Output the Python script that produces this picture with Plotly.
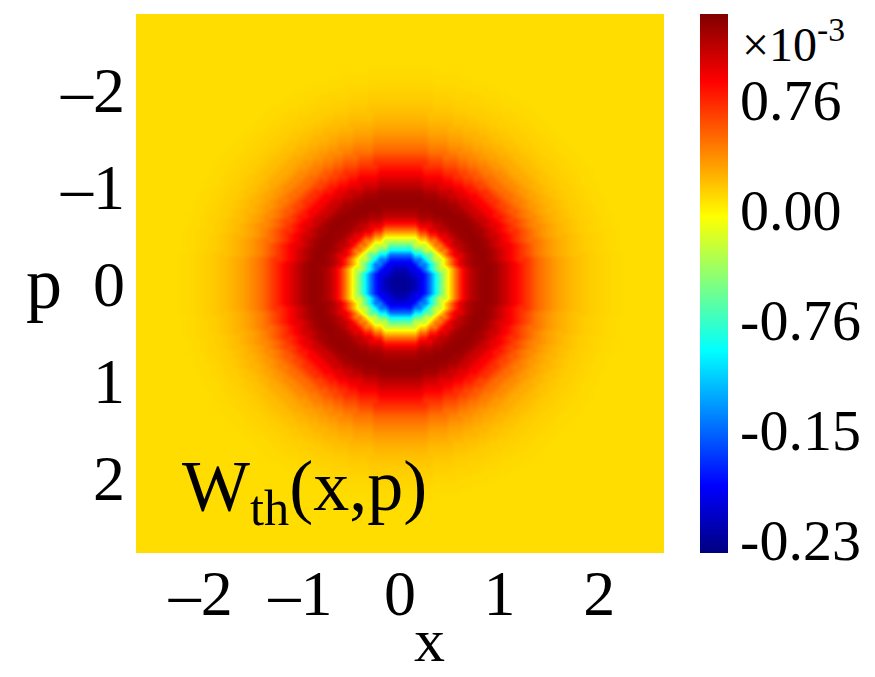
import numpy as np
import plotly.graph_objects as go

# Radial profile of W_th(x,p) (units of 1e-3), every 0.05 in radius
radius_step = 0.05
w_radial = [-2.30, -2.28, -2.24, -2.15, -2.00, -1.80, -1.45, -1.00, -0.60, -0.25,
            0.10, 0.45, 0.76, 0.98, 1.12, 1.20, 1.25, 1.27, 1.26, 1.22,
            1.15, 1.07, 0.98, 0.90, 0.81, 0.72, 0.64, 0.56, 0.49, 0.43,
            0.38, 0.33, 0.29, 0.26, 0.23, 0.20, 0.18, 0.16, 0.14, 0.13,
            0.12, 0.11, 0.10, 0.09, 0.09, 0.08]

x_ticks = [-2, -1, 0, 1, 2]
x_tick_text = ["\u20132", "\u20131", "0", "1", "2"]
p_ticks = [-2, -1, 0, 1, 2]
p_tick_text = ["\u20132", "\u20131", "0", "1", "2"]
cbar_ticks = [0.76, 0.0, -0.76, -1.52, -2.28]
cbar_tick_text = ["0.76", "0.00", "-0.76", "-0.15", "-0.23"]

# MATLAB-style jet
jet = [[0.0, "rgb(0,0,128)"], [0.125, "rgb(0,0,255)"], [0.375, "rgb(0,255,255)"],
       [0.625, "rgb(255,255,0)"], [0.875, "rgb(255,0,0)"], [1.0, "rgb(128,0,0)"]]

# grid of phase-space points (multiples of the radial step)
n = 56
xg = np.round(np.arange(-n, n + 1) * radius_step, 3)
pg = np.round(np.arange(-n, n + 1) * radius_step, 3)
X, P = np.meshgrid(xg, pg)
idx = np.clip(np.rint(np.sqrt(X**2 + P**2) / radius_step).astype(int), 0, len(w_radial) - 1)
Z = np.array(w_radial)[idx]

FONT = "Liberation Serif"
W, H = 867, 669
L, T = 128, 6
pw, ph = 528, 539
R, B = W - L - pw, H - T - ph

fig = go.Figure(go.Heatmap(
    x=xg, y=pg, z=Z, colorscale=jet, zmin=-2.37, zmax=1.35, zsmooth="best",
    colorbar=dict(
        x=(692 - L) / pw, xanchor="left", xpad=0, ypad=0,
        y=0.5, yanchor="middle", len=ph, lenmode="pixels",
        thickness=28, outlinewidth=0, ticks="",
        tickvals=cbar_ticks, ticktext=cbar_tick_text,
        tickfont=dict(family=FONT, size=58, color="black"),
    ),
    showscale=True,
))

fig.update_layout(
    width=W, height=H,
    margin=dict(l=L, r=R, t=T, b=B),
    paper_bgcolor="white", plot_bgcolor="white",
    font=dict(family=FONT, color="black"),
    xaxis=dict(range=[-2.65, 2.65], tickvals=x_ticks, ticktext=x_tick_text,
               showgrid=False, zeroline=False, ticks="", showline=False,
               tickfont=dict(family=FONT, size=64), ticklabelstandoff=-3),
    yaxis=dict(range=[2.78, -2.78], tickvals=p_ticks, ticktext=p_tick_text,
               showgrid=False, zeroline=False, ticks="", showline=False,
               tickfont=dict(family=FONT, size=64), ticklabelstandoff=10),
    annotations=[
        dict(text="x", x=0.3, xref="x", y=(H - B - 668) / ph, yref="paper",
             showarrow=False, font=dict(family=FONT, size=62), xanchor="center", yanchor="bottom"),
        dict(text="p", x=(36 - L) / pw, xref="paper", y=0, yref="y",
             showarrow=False, font=dict(family=FONT, size=72), xanchor="center", yanchor="middle"),
        dict(text="\u00d710<sup>-3</sup>", x=(732 - L) / pw, xref="paper",
             y=(H - B - 33) / ph, yref="paper", showarrow=False,
             font=dict(family=FONT, size=48), xanchor="left", yanchor="middle"),
        dict(text="W<sub>th</sub>(x,p)", x=(172 - L) / pw, xref="paper",
             y=(H - B - 530) / ph, yref="paper", showarrow=False,
             font=dict(family=FONT, size=72), xanchor="left", yanchor="bottom"),
    ],
)

fig.write_html("out.html")
